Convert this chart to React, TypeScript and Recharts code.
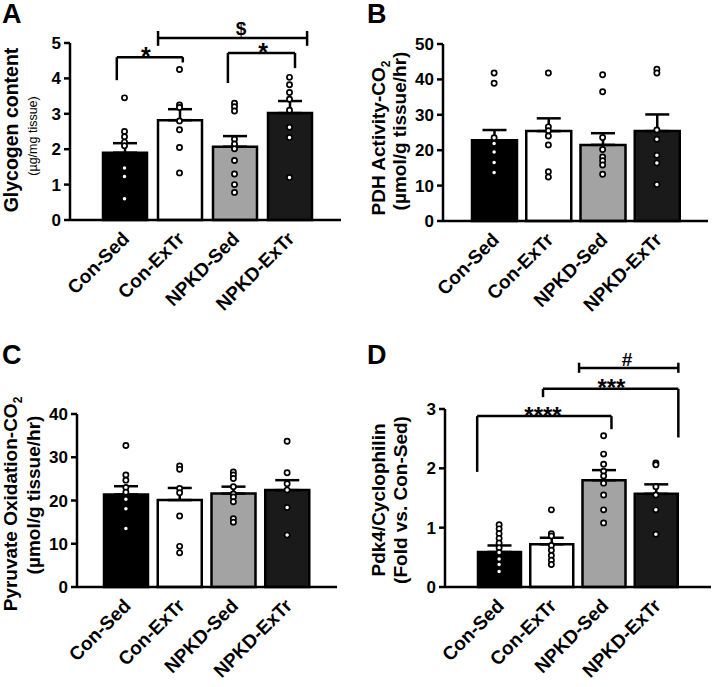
import React from 'react';
import {
  ComposedChart,
  Bar,
  Cell,
  ErrorBar,
  Scatter,
  XAxis,
  YAxis,
  ReferenceLine,
  ReferenceDot,
} from 'recharts';

const FONT = "'Liberation Sans', Arial, Helvetica, sans-serif";

// ---------- shared categories ----------
const groups = ['Con-Sed', 'Con-ExTr', 'NPKD-Sed', 'NPKD-ExTr'];
const groupFills = ['#000000', '#ffffff', '#a3a3a3', '#1a1a1a'];

// ---------- Panel A: Glycogen content ----------
const glycogenMean = [1.9, 2.82, 2.07, 3.02];
const glycogenSem = [0.27, 0.31, 0.3, 0.34];
const glycogenPoints = [
  [3.45, 2.5, 2.35, 2.2, 2.1, 1.47, 1.23, 0.6],
  [4.25, 3.25, 3.18, 2.8, 2.55, 2.05, 1.33],
  [3.3, 3.2, 3.08, 2.28, 2.15, 2.01, 1.68, 1.3, 1.0, 0.78],
  [4.03, 3.82, 3.6, 3.41, 3.1, 2.62, 2.33, 1.2],
];
const glycogenTicks = [0, 1, 2, 3, 4, 5];
const glycogenBrackets = [
  { x1: 0.36, x2: 1.56, y: 4.6, leftEnd: 3.95, rightEnd: 4.45 },
  { x1: 2.38, x2: 3.6, y: 4.72, leftEnd: 3.87, rightEnd: 4.29 },
];
const glycogenCapLines = [{ x1: 1.11, x2: 3.82, y: 5.14, capLow: 4.92, capHigh: 5.34 }];
const glycogenMarks = [
  { x: 0.89, y: 4.63, text: '*', size: 25 },
  { x: 3.02, y: 4.74, text: '*', size: 25 },
  { x: 2.62, y: 5.42, text: '$', size: 19 },
];

// ---------- Panel B: PDH activity ----------
const pdhMean = [22.8, 25.4, 21.5, 25.4];
const pdhSem = [2.9, 3.6, 3.3, 4.7];
const pdhPoints = [
  [41.8, 38.9, 23.5, 21.9, 19.5, 16.5, 13.7],
  [41.8, 26.6, 25.5, 24, 21.5, 13.9, 12.4],
  [41.3, 36.5, 23.6, 20.2, 18.1, 17, 15.8, 13.2],
  [42.9, 41.8, 25.7, 23.1, 18.6, 16.4, 10.3],
];
const pdhTicks = [0, 10, 20, 30, 40, 50];

// ---------- Panel C: Pyruvate oxidation ----------
const pyrMean = [21.4, 20.1, 21.6, 22.4];
const pyrSem = [1.9, 2.8, 1.6, 2.3];
const pyrPoints = [
  [32.7, 25.9, 24.7, 23.0, 21.9, 20.3, 18.1, 13.5],
  [28.0, 27.2, 22.8, 21.8, 16.4, 9.4, 7.9],
  [26.6, 25.9, 25.1, 23.2, 21.5, 20.8, 19.7, 15.8, 15.0],
  [33.7, 26.4, 23.9, 22.4, 18.4, 12.0],
];
const pyrTicks = [0, 10, 20, 30, 40];

// ---------- Panel D: Pdk4 ----------
const pdkMean = [0.59, 0.72, 1.8, 1.57];
const pdkSem = [0.11, 0.11, 0.17, 0.16];
const pdkPoints = [
  [1.05, 0.98, 0.9, 0.82, 0.74, 0.66, 0.58, 0.47, 0.38, 0.26],
  [1.3, 0.9, 0.86, 0.7, 0.62, 0.53, 0.45, 0.38],
  [2.55, 2.24, 2.07, 1.95, 1.87, 1.75, 1.55, 1.3, 1.08],
  [2.09, 2.06, 1.69, 1.55, 1.3, 0.89],
];
const pdkTicks = [0, 1, 2, 3];
const pdkBrackets = [
  { x1: 0.08, x2: 2.65, y: 2.88, leftEnd: 1.94, rightEnd: 2.66 },
  { x1: 1.34, x2: 3.93, y: 3.34, leftEnd: 3.2, rightEnd: 2.52 },
];
const pdkCapLines = [{ x1: 2.03, x2: 3.93, y: 3.69, capLow: 3.61, capHigh: 3.78 }];
const pdkMarks = [
  { x: 1.34, y: 2.89, text: '****', size: 24 },
  { x: 2.65, y: 3.37, text: '***', size: 24 },
  { x: 2.95, y: 3.83, text: '#', size: 19 },
];

// ---------- helpers ----------
const XTick = (props: any) => {
  const { x, y, payload } = props;
  return (
    <g transform={`translate(${x + 6},${y + 20})`}>
      <text
        transform="rotate(-45)"
        textAnchor="end"
        fontSize={19}
        fontWeight="bold"
        fontFamily={FONT}
        fill="#000"
      >
        {payload.value}
      </text>
    </g>
  );
};

const dotShape = (p: any) => (
  <circle cx={p.cx} cy={p.cy} r={2.6} fill="#fff" stroke="#000" strokeWidth={1.7} />
);

const rotLabel = (
  text: React.ReactNode,
  bx: number,
  cy: number,
  size: number,
  bold = true
) => (
  <text
    transform={`translate(${bx},${cy}) rotate(-90)`}
    textAnchor="middle"
    fontSize={size}
    fontWeight={bold ? 'bold' : 'normal'}
    fontFamily={FONT}
    fill="#000"
  >
    {text}
  </text>
);

const co2 = (prefix: string) => (
  <>
    {prefix}
    <tspan fontSize={12} dy={5}>
      2
    </tspan>
  </>
);

const labelA = () => (
  <g>
    {rotLabel('Glycogen content', 17.5, 130, 19.5)}
    {rotLabel('(µg/mg tissue)', 37, 136, 12.5, false)}
  </g>
);
const labelB = () => (
  <g>
    {rotLabel(co2('PDH Activity-CO'), 28, 138, 19)}
    {rotLabel('(µmol/g tissue/hr)', 49, 131, 19)}
  </g>
);
const labelC = () => (
  <g>
    {rotLabel(co2('Pyruvate Oxidation-CO'), 17, 164, 19)}
    {rotLabel('(µmol/g tissue/hr)', 40, 155, 19)}
  </g>
);
const labelD = () => (
  <g>
    {rotLabel('Pdk4/Cyclophilin', 28, 160, 19)}
    {rotLabel('(Fold vs. Con-Sed)', 50, 160, 19)}
  </g>
);

type Seg = { a: { x: number; y: number }; b: { x: number; y: number } };

function Panel(props: any) {
  const { cfg, means, sems, points, ticks, domain, brackets, capLines, marks, yLabel } = props;
  const data = groups.map((name, i) => ({ name, mean: means[i], err: [0, sems[i]] }));
  const pts = points.flatMap((arr: number[], i: number) =>
    arr.map((v) => ({ x: i + 0.5, y: v }))
  );
  const segs: Seg[] = [];
  (brackets || []).forEach((br: any) => {
    segs.push({ a: { x: br.x1, y: br.leftEnd }, b: { x: br.x1, y: br.y } });
    segs.push({ a: { x: br.x1, y: br.y }, b: { x: br.x2, y: br.y } });
    segs.push({ a: { x: br.x2, y: br.y }, b: { x: br.x2, y: br.rightEnd } });
  });
  (capLines || []).forEach((c: any) => {
    segs.push({ a: { x: c.x1, y: c.capLow }, b: { x: c.x1, y: c.capHigh } });
    segs.push({ a: { x: c.x1, y: c.y }, b: { x: c.x2, y: c.y } });
    segs.push({ a: { x: c.x2, y: c.capLow }, b: { x: c.x2, y: c.capHigh } });
  });
  return (
    <div style={{ position: 'absolute', left: cfg.left, top: cfg.top }}>
      <ComposedChart width={cfg.width} height={cfg.height} data={data} margin={cfg.margin}>
        <XAxis
          dataKey="name"
          type="category"
          height={cfg.xHeight}
          padding={{ left: cfg.padL, right: cfg.padR }}
          tickLine={false}
          tickSize={0}
          tickMargin={0}
          interval={0}
          axisLine={{ stroke: '#000', strokeWidth: 2.5 }}
          tick={<XTick />}
        />
        <XAxis
          xAxisId="n"
          type="number"
          dataKey="x"
          domain={[0, 4]}
          hide
          allowDataOverflow
          padding={{ left: cfg.padL, right: cfg.padR }}
        />
        <YAxis
          type="number"
          domain={domain}
          ticks={ticks}
          interval={0}
          width={cfg.yWidth}
          tickSize={6}
          tickMargin={3}
          axisLine={{ stroke: '#000', strokeWidth: 2.5 }}
          tickLine={{ stroke: '#000', strokeWidth: 2.5 }}
          tick={{ fontSize: 17, fontWeight: 'bold', fill: '#000', fontFamily: FONT }}
          label={yLabel}
        />
        <Bar
          dataKey="mean"
          barSize={cfg.barSize}
          stroke="#000"
          strokeWidth={2.5}
          isAnimationActive={false}
        >
          {data.map((d, i) => (
            <Cell key={d.name} fill={groupFills[i]} />
          ))}
          <ErrorBar dataKey="err" width={12} stroke="#000" strokeWidth={2.5} direction="y" />
        </Bar>
        <Scatter
          data={pts}
          dataKey="y"
          xAxisId="n"
          isAnimationActive={false}
          shape={dotShape}
        />
        {segs.map((s, i) => (
          <ReferenceLine
            key={`s${i}`}
            xAxisId="n"
            segment={[s.a, s.b]}
            stroke="#000"
            strokeWidth={2.5}
            ifOverflow="visible"
          />
        ))}
        {(marks || []).map((m: any, i: number) => (
          <ReferenceDot
            key={`m${i}`}
            xAxisId="n"
            x={m.x}
            y={m.y}
            r={0}
            fill="none"
            stroke="none"
            ifOverflow="visible"
            label={{
              value: m.text,
              position: 'center',
              fontSize: m.size,
              fontWeight: 'bold',
              fill: '#000',
              fontFamily: FONT,
            }}
          />
        ))}
      </ComposedChart>
    </div>
  );
}

const cfgA = {
  left: 0, top: 0, width: 357, height: 340,
  margin: { top: 43, right: 16, left: 40, bottom: 10 },
  yWidth: 30, xHeight: 110, padL: 27, padR: 24, barSize: 44,
};
const cfgB = {
  left: 357, top: 0, width: 357, height: 340,
  margin: { top: 44, right: 6, left: 56, bottom: 10 },
  yWidth: 30, xHeight: 109, padL: 24, padR: 24, barSize: 45,
};
const cfgC = {
  left: 0, top: 340, width: 357, height: 347,
  margin: { top: 74, right: 20, left: 47, bottom: 10 },
  yWidth: 30, xHeight: 90, padL: 22, padR: 23, barSize: 44,
};
const cfgD = {
  left: 357, top: 340, width: 357, height: 347,
  margin: { top: 69, right: 3, left: 58, bottom: 10 },
  yWidth: 30, xHeight: 90, padL: 28, padR: 29, barSize: 43,
};

export default function App() {
  return (
    <div
      style={{
        position: 'absolute',
        left: 0,
        top: 0,
        width: 714,
        height: 687,
        background: '#fff',
        fontFamily: FONT,
      }}
    >
      <Panel
        cfg={cfgA}
        means={glycogenMean}
        sems={glycogenSem}
        points={glycogenPoints}
        ticks={glycogenTicks}
        domain={[0, 5]}
        brackets={glycogenBrackets}
        capLines={glycogenCapLines}
        marks={glycogenMarks}
        yLabel={labelA}
      />
      <Panel
        cfg={cfgB}
        means={pdhMean}
        sems={pdhSem}
        points={pdhPoints}
        ticks={pdhTicks}
        domain={[0, 50]}
        yLabel={labelB}
      />
      <Panel
        cfg={cfgC}
        means={pyrMean}
        sems={pyrSem}
        points={pyrPoints}
        ticks={pyrTicks}
        domain={[0, 40]}
        yLabel={labelC}
      />
      <Panel
        cfg={cfgD}
        means={pdkMean}
        sems={pdkSem}
        points={pdkPoints}
        ticks={pdkTicks}
        domain={[0, 3]}
        brackets={pdkBrackets}
        capLines={pdkCapLines}
        marks={pdkMarks}
        yLabel={labelD}
      />
      <svg
        width={714}
        height={687}
        style={{ position: 'absolute', left: 0, top: 0, pointerEvents: 'none' }}
      >
        <text x={2} y={23} fontSize={27} fontWeight="bold" fontFamily={FONT}>A</text>
        <text x={367} y={23} fontSize={27} fontWeight="bold" fontFamily={FONT}>B</text>
        <text x={2} y={364} fontSize={27} fontWeight="bold" fontFamily={FONT}>C</text>
        <text x={367} y={364} fontSize={27} fontWeight="bold" fontFamily={FONT}>D</text>
      </svg>
    </div>
  );
}
